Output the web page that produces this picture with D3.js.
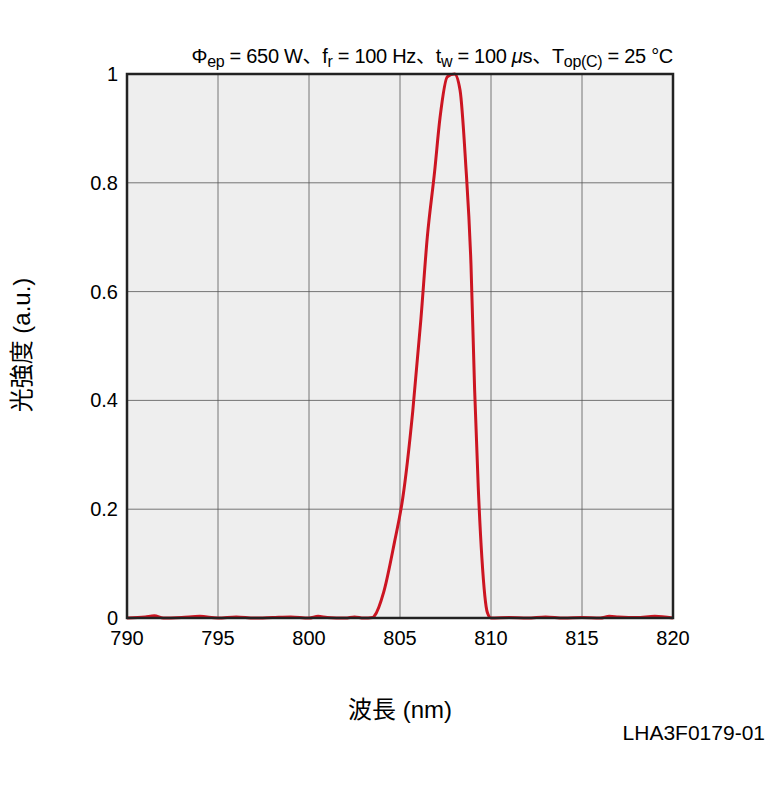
<!DOCTYPE html>
<html><head><meta charset="utf-8">
<script src="https://cdn.jsdelivr.net/npm/d3@7"></script>
<style>body{margin:0;background:#fff}text{font-family:"Liberation Sans",Arial,"Noto Sans CJK JP",sans-serif}</style>
</head><body><svg id="c" width="768" height="792"></svg>
<script>
const xTicks=[790,795,800,805,810,815,820];
const yTicks=[0,0.2,0.4,0.6,0.8,1];
const yTickLabels=["0","0.2","0.4","0.6","0.8","1"];
const wavelength=[790,791,791.5,792,793,794,795,796,797,798,799,800,800.5,801,802,802.5,803,803.5,803.6,804.1,804.7,805.15,805.7,806.15,806.5,806.9,807.2,807.6,808.0,808.3,808.6,808.9,809.1,809.3,809.5,809.8,810,811,812,813,814,815,816,816.5,817,818,819,820];
const intensity=[0,0.002,0.004,0,0.001,0.003,0,0.002,0,0.001,0.002,0,0.003,0.001,0,0.002,0,0.001,0.004,0.047,0.14,0.22,0.38,0.55,0.70,0.82,0.92,0.995,1.0,0.97,0.84,0.65,0.42,0.24,0.11,0.01,0,0.001,0,0.002,0,0.001,0,0.003,0.002,0.001,0.003,0];
const svg=d3.select("#c");
const L=127,R=673,T=74,B=618;
const x=d3.scaleLinear().domain([790,820]).range([L,R]);
const y=d3.scaleLinear().domain([0,1]).range([B,T]);
svg.append("rect").attr("x",L).attr("y",T).attr("width",R-L).attr("height",B-T).attr("fill","#eeeeee");
svg.append("g").selectAll("line").data(xTicks.slice(1,-1)).join("line")
 .attr("x1",d=>x(d)).attr("x2",d=>x(d)).attr("y1",T).attr("y2",B).attr("stroke","#555").attr("stroke-width",0.8);
svg.append("g").selectAll("line").data(yTicks.slice(1,-1)).join("line")
 .attr("y1",d=>y(d)).attr("y2",d=>y(d)).attr("x1",L).attr("x2",R).attr("stroke","#555").attr("stroke-width",0.8);
const line=d3.line().x((d,i)=>x(wavelength[i])).y(d=>y(d)).curve(d3.curveMonotoneX);
svg.append("path").datum(intensity).attr("d",line).attr("fill","none").attr("stroke","#cc1522").attr("stroke-width",3);
svg.append("rect").attr("x",L).attr("y",T).attr("width",R-L).attr("height",B-T).attr("fill","none").attr("stroke","#222").attr("stroke-width",2.5);
svg.append("g").selectAll("text").data(xTicks).join("text").attr("x",d=>x(d)).attr("y",645).attr("text-anchor","middle").attr("font-size",20).text(d=>d);
svg.append("g").selectAll("text").data(yTicks).join("text").attr("x",118).attr("y",d=>y(d)+7).attr("text-anchor","end").attr("font-size",20).text((d,i)=>yTickLabels[i]);
svg.append("text").attr("x",400).attr("y",718).attr("text-anchor","middle").attr("font-size",24).text("波長 (nm)");
svg.append("text").attr("transform","translate(30,345) rotate(-90)").attr("text-anchor","middle").attr("font-size",24).text("光強度 (a.u.)");
svg.append("text").attr("x",765).attr("y",740).attr("text-anchor","end").attr("font-size",21).text("LHA3F0179-01");
const t=svg.append("text").attr("x",673).attr("y",63).attr("text-anchor","end").attr("font-size",20).attr("letter-spacing",-0.3);
const parts=[["Φ",0],["ep",1],[" = 650 W、f",0],["r",1],[" = 100 Hz、t",0],["w",1],[" = 100 ",0],["μ",2],["s、T",0],["op(C)",1],[" = 25 °C",0]];
parts.forEach(([s,k],i)=>{const ts=t.append("tspan").text(s);
 if(k===1)ts.attr("font-size",16).attr("dy",4);
 else if(i>0 && parts[i-1][1]===1) ts.attr("dy",-4);
 if(k===2)ts.attr("font-style","italic");
});
</script></body></html>
